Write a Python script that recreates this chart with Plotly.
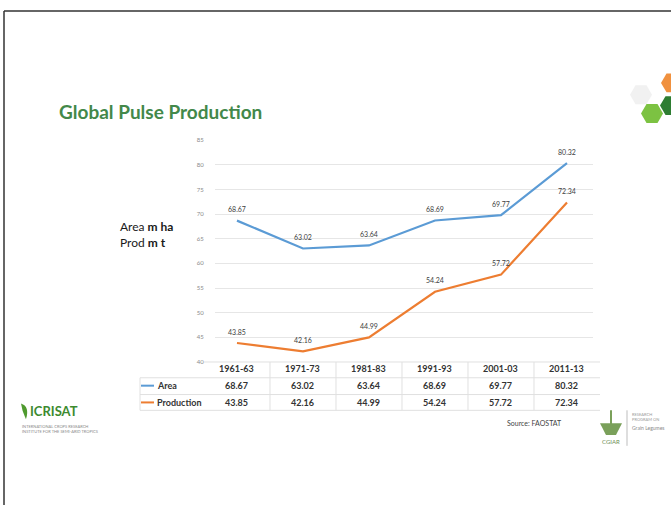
import plotly.graph_objects as go

periods = ["1961-63", "1971-73", "1981-83", "1991-93", "2001-03", "2011-13"]
area = [68.67, 63.02, 63.64, 68.69, 69.77, 80.32]
production = [43.85, 42.16, 44.99, 54.24, 57.72, 72.34]
y_ticks = [40, 45, 50, 55, 60, 65, 70, 75, 80, 85]

W, H = 671, 508
def px(x):
    return x / W
def py(y):
    return 1 - y / H

BLUE = "#5b9bd5"
ORANGE = "#ed7d31"
FONT = "Lato"

xs = list(range(len(periods)))

fig = go.Figure()
fig.add_trace(go.Scatter(
    x=xs, y=area, mode="lines+markers+text", name="Area",
    line=dict(color=BLUE, width=2.2),
    marker=dict(size=9, color="rgba(0,0,0,0)"),
    text=[f"{v:.2f}" for v in area], textposition="top center",
    textfont=dict(size=7, color="#404040", family=FONT),
    cliponaxis=False, hoverinfo="skip"))
fig.add_trace(go.Scatter(
    x=xs, y=production, mode="lines+markers+text", name="Production",
    line=dict(color=ORANGE, width=2.2),
    marker=dict(size=9, color="rgba(0,0,0,0)"),
    text=[f"{v:.2f}" for v in production], textposition="top center",
    textfont=dict(size=7, color="#404040", family=FONT),
    cliponaxis=False, hoverinfo="skip"))

fig.update_layout(
    width=W, height=H, margin=dict(l=0, r=0, t=0, b=0),
    paper_bgcolor="white", plot_bgcolor="white", showlegend=False,
    font=dict(family=FONT),
    xaxis=dict(domain=[px(215), px(593)], range=[-0.333, 5.394],
               showgrid=False, showticklabels=False, zeroline=False,
               showline=False, fixedrange=True),
    yaxis=dict(domain=[py(363), py(138)], range=[40, 85],
               tickvals=y_ticks, ticktext=[str(t) for t in y_ticks],
               showgrid=True, gridcolor="#e6e6e6", gridwidth=1,
               tickfont=dict(size=6, color="#8a8a8a", family=FONT),
               ticks="outside", ticklen=9, tickcolor="rgba(0,0,0,0)",
               zeroline=False, showline=False, fixedrange=True),
)

shapes = []
# slide frame (top and left edges)
shapes.append(dict(type="line", xref="paper", yref="paper", x0=px(4), x1=1.0, y0=py(7), y1=py(7),
                   line=dict(color="#333333", width=1.5)))
shapes.append(dict(type="line", xref="paper", yref="paper", x0=px(4), x1=px(4), y0=py(7), y1=0,
                   line=dict(color="#333333", width=1.5)))

# data table grid
TC = "#e0e0e0"
row_lines = [363, 379, 396, 412]
for i, yy in enumerate(row_lines):
    x0 = 204 if i == 0 else 140
    shapes.append(dict(type="line", xref="paper", yref="paper", x0=px(x0), x1=px(600),
                       y0=py(yy), y1=py(yy), line=dict(color=TC, width=1)))
for k in range(len(periods) + 1):
    shapes.append(dict(type="line", xref="x", yref="paper", x0=k - 0.5, x1=k - 0.5,
                       y0=py(363), y1=py(412), line=dict(color=TC, width=1)))
shapes.append(dict(type="line", xref="paper", yref="paper", x0=px(140), x1=px(140),
                   y0=py(379), y1=py(412), line=dict(color=TC, width=1)))
# legend keys in table
shapes.append(dict(type="line", xref="paper", yref="paper", x0=px(141), x1=px(154),
                   y0=py(387), y1=py(387), line=dict(color=BLUE, width=2)))
shapes.append(dict(type="line", xref="paper", yref="paper", x0=px(141), x1=px(154),
                   y0=py(404), y1=py(404), line=dict(color=ORANGE, width=2)))

# decorative hexagons (top right)
def hexagon(cx, cy, r, color, opacity=1.0):
    import math
    pts = []
    for j in range(6):
        a = math.radians(60 * j)
        pts.append((px(cx + r * math.cos(a)), py(cy + r * math.sin(a))))
    path = "M " + " L ".join(f"{a:.4f},{b:.4f}" for a, b in pts) + " Z"
    return dict(type="path", xref="paper", yref="paper", path=path,
                fillcolor=color, line=dict(width=0), opacity=opacity)
shapes.append(hexagon(641, 92, 11, "#e3e3e3", 0.5))
shapes.append(hexagon(672, 80, 11, "#f0913f"))
shapes.append(hexagon(671, 103, 11, "#2e7d32"))
shapes.append(hexagon(652, 111, 11, "#7cc242"))

# CGIAR separator
shapes.append(dict(type="line", xref="paper", yref="paper", x0=px(627), x1=px(627),
                   y0=py(412), y1=py(448), line=dict(color="#bdbdbd", width=1)))
# ICRISAT leaf mark
shapes.append(dict(type="path", xref="paper", yref="paper",
                   path=f"M {px(21):.4f},{py(405):.4f} Q {px(30):.4f},{py(408):.4f} {px(26):.4f},{py(421):.4f} Q {px(22):.4f},{py(413):.4f} {px(21):.4f},{py(405):.4f} Z",
                   fillcolor="#4f9a2f", line=dict(width=0)))
# CGIAR mark
shapes.append(dict(type="path", xref="paper", yref="paper",
                   path=f"M {px(600):.4f},{py(425):.4f} L {px(622):.4f},{py(425):.4f} L {px(616):.4f},{py(437):.4f} L {px(606):.4f},{py(437):.4f} Z",
                   fillcolor="#7aa05a", line=dict(width=0)))
shapes.append(dict(type="line", xref="paper", yref="paper", x0=px(611), x1=px(611),
                   y0=py(412), y1=py(437), line=dict(color="#7aa05a", width=2)))

fig.update_layout(shapes=shapes)

ann = []
ann.append(dict(text="<b>Global Pulse Production</b>", x=px(57), y=py(109), xref="paper", yref="paper",
                xanchor="left", yanchor="middle", showarrow=False,
                font=dict(size=19, color="#43884a", family=FONT)))
ann.append(dict(text="Area <b>m ha</b>", x=px(118), y=py(226), xref="paper", yref="paper",
                xanchor="left", yanchor="middle", showarrow=False,
                font=dict(size=12, color="#1a1a1a", family=FONT)))
ann.append(dict(text="Prod <b>m t</b>", x=px(118), y=py(242), xref="paper", yref="paper",
                xanchor="left", yanchor="middle", showarrow=False,
                font=dict(size=12, color="#1a1a1a", family=FONT)))

# data table text
for i, p in enumerate(periods):
    ann.append(dict(text=f"<b>{p}</b>", x=i, y=py(370), xref="x", yref="paper",
                    xanchor="center", yanchor="middle", showarrow=False,
                    font=dict(size=9, color="#333333", family=FONT)))
    ann.append(dict(text=f"<b>{area[i]:.2f}</b>", x=i, y=py(387), xref="x", yref="paper",
                    xanchor="center", yanchor="middle", showarrow=False,
                    font=dict(size=9, color="#333333", family=FONT)))
    ann.append(dict(text=f"<b>{production[i]:.2f}</b>", x=i, y=py(404), xref="x", yref="paper",
                    xanchor="center", yanchor="middle", showarrow=False,
                    font=dict(size=9, color="#333333", family=FONT)))
ann.append(dict(text="<b>Area</b>", x=px(155), y=py(387), xref="paper", yref="paper",
                xanchor="left", yanchor="middle", showarrow=False,
                font=dict(size=9, color="#333333", family=FONT)))
ann.append(dict(text="<b>Production</b>", x=px(155), y=py(404), xref="paper", yref="paper",
                xanchor="left", yanchor="middle", showarrow=False,
                font=dict(size=9, color="#333333", family=FONT)))

ann.append(dict(text="Source: FAOSTAT", x=px(505), y=py(425), xref="paper", yref="paper",
                xanchor="left", yanchor="middle", showarrow=False,
                font=dict(size=7, color="#444444", family=FONT)))
# ICRISAT logo text
ann.append(dict(text="<b>ICRISAT</b>", x=px(28), y=py(413), xref="paper", yref="paper",
                xanchor="left", yanchor="middle", showarrow=False,
                font=dict(size=13, color="#3d8b2f", family=FONT)))
ann.append(dict(text="INTERNATIONAL CROPS RESEARCH<br>INSTITUTE FOR THE SEMI-ARID TROPICS",
                x=px(20), y=py(431), xref="paper", yref="paper",
                xanchor="left", yanchor="middle", showarrow=False, align="left",
                font=dict(size=4, color="#8a8a8a", family=FONT)))
# CGIAR logo text
ann.append(dict(text="CGIAR", x=px(611), y=py(444), xref="paper", yref="paper",
                xanchor="center", yanchor="middle", showarrow=False,
                font=dict(size=6, color="#6d8f55", family=FONT)))
ann.append(dict(text="RESEARCH<br>PROGRAM ON", x=px(630), y=py(419), xref="paper", yref="paper",
                xanchor="left", yanchor="middle", showarrow=False, align="left",
                font=dict(size=4, color="#9a9a9a", family=FONT)))
ann.append(dict(text="Grain Legumes", x=px(630), y=py(430), xref="paper", yref="paper",
                xanchor="left", yanchor="middle", showarrow=False,
                font=dict(size=5, color="#8a8a8a", family=FONT)))

fig.update_layout(annotations=ann)
fig.write_html("out.html")
